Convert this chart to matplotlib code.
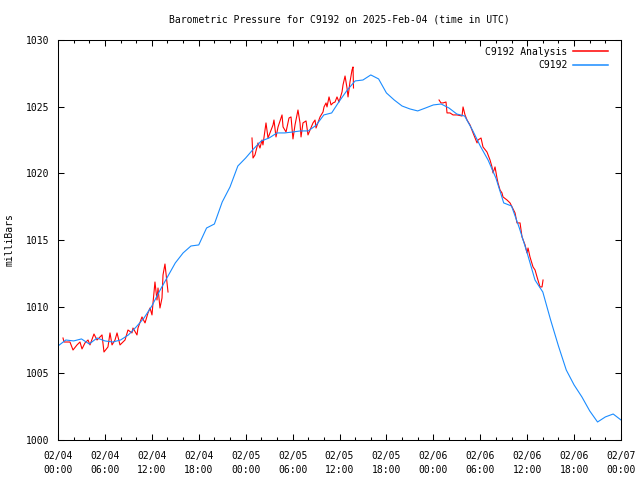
import matplotlib
matplotlib.use("Agg")
import matplotlib.pyplot as plt
from matplotlib.lines import Line2D
import numpy as np

# ---- data (hours since 2025-02-04 00:00 UTC, pressure in mb) ----
obs_hours = list(range(0, 73))
obs_mb = [1007.05, 1007.5, 1007.43, 1007.58, 1007.2, 1007.65, 1007.43, 1007.35, 1007.5, 1007.88,
          1008.48, 1009.15, 1010.05, 1011.18, 1012.23, 1013.28, 1014.03, 1014.55, 1014.63, 1015.9,
          1016.2, 1017.85, 1018.98, 1020.55, 1021.15, 1021.83, 1022.43, 1022.65, 1023.03, 1023.03,
          1023.1, 1023.18, 1023.18, 1023.6, 1024.38, 1024.53, 1025.43, 1026.25, 1026.93, 1027.0,
          1027.38, 1027.08, 1026.03, 1025.5, 1025.05, 1024.83, 1024.68, 1024.9, 1025.13, 1025.2,
          1024.9, 1024.45, 1024.3, 1023.25, 1022.05, 1021.0, 1019.65, 1017.78, 1017.55, 1015.9,
          1014.03, 1012.0, 1011.1, 1009.0, 1007.05, 1005.25, 1004.13, 1003.23, 1002.18, 1001.35,
          1001.73, 1001.95, 1001.5]

ana1_hours = [0.64, 0.77, 1.53, 1.92, 2.43, 2.81, 3.07, 3.45, 3.84, 4.09, 4.60, 4.99, 5.37, 5.63,
              5.88, 6.39, 6.65, 6.91, 7.29, 7.55, 7.93, 8.57, 8.95, 9.46, 9.59, 10.10, 10.23, 10.74,
              11.13, 11.51, 11.77, 12.02, 12.15, 12.40, 12.66, 12.79, 13.04, 13.30, 13.43, 13.68,
              13.94, 14.07]
ana1_mb = [1007.65, 1007.35, 1007.35, 1006.75, 1007.13, 1007.35, 1006.83, 1007.28, 1007.5, 1007.13,
           1007.95, 1007.5, 1007.73, 1007.88, 1006.6, 1006.98, 1008.03, 1007.13, 1007.5, 1008.03,
           1007.13, 1007.5, 1008.25, 1008.03, 1008.4, 1007.88, 1008.4, 1009.23, 1008.78, 1009.53,
           1009.9, 1009.38, 1010.28, 1011.85, 1010.5, 1011.4, 1009.9, 1010.65, 1012.38, 1013.2,
           1011.78, 1011.1]

ana2_hours = [24.81, 24.94, 25.19, 25.58, 25.83, 26.09, 26.21, 26.60, 26.86, 27.11, 27.50, 27.62,
              27.88, 28.14, 28.65, 28.78, 29.16, 29.54, 29.80, 30.05, 30.31, 30.69, 30.95, 31.08,
              31.33, 31.72, 31.97, 32.23, 32.61, 32.87, 33.00, 33.51, 33.89, 34.02, 34.28, 34.40,
              34.66, 34.92, 35.17, 35.43, 35.68, 35.94, 36.32, 36.45, 36.71, 36.96, 37.09, 37.34,
              37.60, 37.73, 37.79]
ana2_mb = [1022.65, 1021.15, 1021.38, 1022.28, 1021.9, 1022.5, 1022.13, 1023.78, 1022.65, 1023.03,
           1023.63, 1024.0, 1022.73, 1023.48, 1024.38, 1023.48, 1023.1, 1024.15, 1024.23, 1022.58,
           1023.63, 1024.75, 1023.78, 1022.73, 1023.78, 1023.93, 1022.88, 1023.25, 1023.78, 1024.0,
           1023.4, 1024.23, 1024.6, 1024.98, 1025.28, 1024.98, 1025.73, 1025.13, 1025.28, 1025.35,
           1025.73, 1025.35, 1026.1, 1026.63, 1027.3, 1026.4, 1025.73, 1026.85, 1027.75, 1027.98,
           1026.4]

ana3_hours = [48.73, 48.98, 49.24, 49.62, 49.75, 50.13, 50.52, 51.03, 51.67, 51.80, 52.05, 52.31,
              52.69, 53.08, 53.59, 53.71, 54.10, 54.35, 54.86, 55.25, 55.50, 55.63, 55.89, 56.14,
              56.27, 56.53, 56.78, 56.91, 57.42, 57.81, 58.06, 58.45, 58.70, 59.09, 59.34, 59.73,
              59.98, 60.11, 60.36, 60.75, 61.01, 61.26, 61.64, 61.90, 62.03]
ana3_mb = [1025.5, 1025.28, 1025.28, 1025.35, 1024.53, 1024.53, 1024.38, 1024.38, 1024.3, 1024.98,
           1024.38, 1024.0, 1023.63, 1023.03, 1022.28, 1022.5, 1022.65, 1021.98, 1021.6, 1021.0,
           1020.48, 1020.03, 1020.48, 1019.65, 1019.28, 1018.75, 1018.53, 1018.23, 1018.0, 1017.78,
           1017.48, 1017.03, 1016.28, 1016.28, 1015.23, 1014.63, 1014.03, 1014.4, 1013.73, 1012.98,
           1012.75, 1012.23, 1011.48, 1011.48, 1012.0]

xtick_hours = list(range(0, 73, 6))
xtick_labels = ["02/04\n00:00", "02/04\n06:00", "02/04\n12:00", "02/04\n18:00",
                "02/05\n00:00", "02/05\n06:00", "02/05\n12:00", "02/05\n18:00",
                "02/06\n00:00", "02/06\n06:00", "02/06\n12:00", "02/06\n18:00",
                "02/07\n00:00"]
yticks = [1000, 1005, 1010, 1015, 1020, 1025, 1030]

FONT = "DejaVu Sans Mono"
plt.rcParams['font.family'] = [FONT]
plt.rcParams['font.size'] = 7

fig = plt.figure(figsize=(6.4, 4.8), dpi=100)
ax = fig.add_axes([58/640, 1-440/480, (621-58)/640, 400/480])

RED = "#ff0000"
BLUE = "#1a8cff"
LW = 0.8

a_h = ana1_hours + [np.nan] + ana2_hours + [np.nan] + ana3_hours
a_v = ana1_mb + [np.nan] + ana2_mb + [np.nan] + ana3_mb
ax.plot(a_h, a_v, color=RED, lw=LW)
ax.plot(obs_hours, obs_mb, color=BLUE, lw=LW)

ax.set_xlim(0, 72)
ax.set_ylim(1000, 1030)
ax.set_xticks(xtick_hours)
ax.set_xticklabels(xtick_labels, fontsize=7, linespacing=1.45)
ax.set_xticks(np.arange(0, 73, 2), minor=True)
ax.set_yticks(yticks)
ax.set_yticklabels([str(v) for v in yticks], fontsize=7)
ax.tick_params(axis='both', which='major', direction='in', length=4, width=0.75,
               top=True, right=True, pad=6)
ax.tick_params(axis='x', which='major', pad=8)
ax.tick_params(axis='x', which='minor', direction='in', length=2, width=0.75, top=True)
for s in ax.spines.values():
    s.set_linewidth(0.75)
    s.set_color('black')

fig.text(10/640, 0.5, "milliBars", rotation=90, ha='center', va='center', fontsize=7)
fig.text(339.5/640, 1-19/480, "Barometric Pressure for C9192 on 2025-Feb-04 (time in UTC)",
         ha='center', va='center', fontsize=7)

handles = [Line2D([], [], color=RED, lw=1.1), Line2D([], [], color=BLUE, lw=1.1)]
leg = ax.legend(handles, ["C9192 Analysis", "C9192"], loc='upper right', frameon=False,
                markerfirst=False, fontsize=7, handlelength=3.6, handletextpad=0.6,
                borderaxespad=0.3, labelspacing=0.35, bbox_to_anchor=(1.0 - 6/563, 1.0))
for t in leg.get_texts():
    t.set_ha('right')

fig.savefig("out.png", dpi=100)
